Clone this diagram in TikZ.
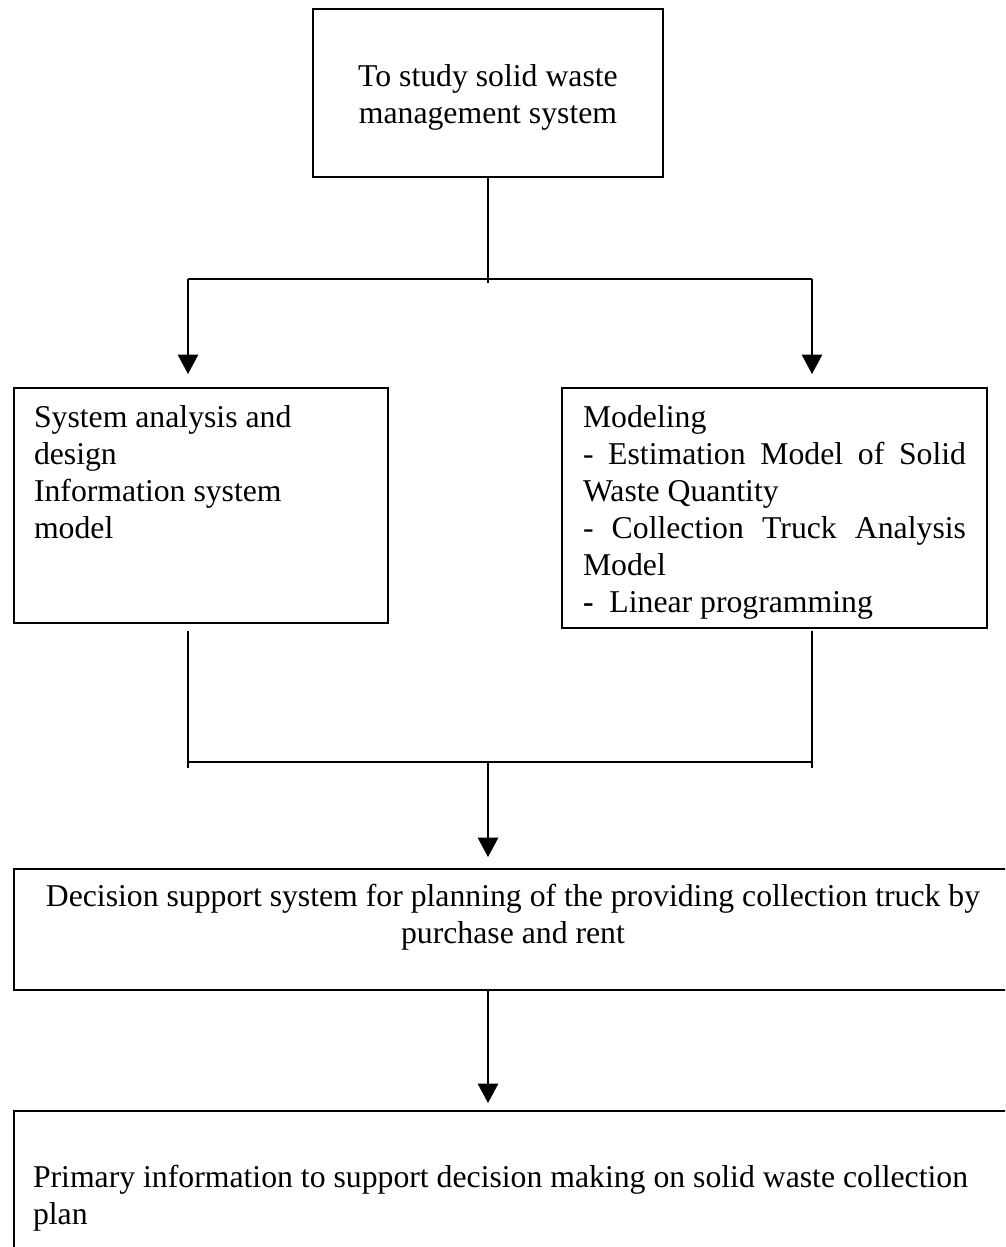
\documentclass[tikz,border=0pt]{standalone}
\usepackage{fontspec}
\setmainfont{Liberation Serif}
\usetikzlibrary{arrows.meta}
\newlength\pxu
\setlength\pxu{0.375pt}
\begin{document}
\begin{tikzpicture}[x=0.375pt, y=-0.375pt,
  box/.style={draw, line width=0.75pt, inner sep=0pt, outer sep=0pt},
  txt/.style={inner sep=0pt, outer sep=0pt, font=\fontsize{11.9pt}{13.9pt}\selectfont},
  conn/.style={line width=0.5pt},
  arrow/.style={conn, -{Triangle[width=7.7pt, length=7.3pt]}}]
\useasboundingbox (0,0) rectangle (1005,1247);
\clip (0,0) rectangle (1005,1247);

% boxes
\node[box, minimum width=350\pxu, minimum height=168\pxu] (topbox) at (488,93) {};
\node[box, minimum width=374\pxu, minimum height=235\pxu] (leftbox) at (201,505.5) {};
\node[box, minimum width=425\pxu, minimum height=240\pxu] (rightbox) at (774.5,508) {};
\node[box, minimum width=998\pxu, minimum height=121\pxu] (dssbox) at (513,929.5) {};
\node[box, minimum width=1010\pxu, minimum height=160\pxu] (infobox) at (519,1191) {};

% texts
\node[txt, anchor=base] (toptext) at (488,86)
  {\parbox[t]{340\pxu}{\centering To study solid waste\\management system}};
\node[txt, anchor=base west] (lefttext) at (34,427)
  {\parbox[t]{350\pxu}{\raggedright System analysis and\\design\\Information system\\model}};
\node[txt, anchor=base west] (righttext) at (583,427)
  {\parbox[t]{383\pxu}{\raggedright Modeling\\
   \makebox[\linewidth][s]{- Estimation Model of Solid}\\
   Waste Quantity\\
   \makebox[\linewidth][s]{- Collection Truck Analysis}\\
   Model\\
   \textbf{-}\ \ Linear programming}};
\node[txt, anchor=base] (dsstext) at (513,906)
  {\parbox[t]{990\pxu}{\centering Decision support system for planning of the providing collection truck by\\purchase and rent}};
\node[txt, anchor=base west] (infotext) at (33,1187)
  {\parbox[t]{1000\pxu}{\raggedright Primary information to support decision making on solid waste collection\\plan}};

% split from the study box
\coordinate (splitM) at (488,279);
\coordinate (splitL) at (188,279);
\coordinate (splitR) at (812,279);
\draw[conn] (topbox.south -| splitM) -- ++(0,106);
\draw[conn] (splitL) -- (splitR);
\draw[arrow, shorten >=5.25pt] (splitL) -- (splitL |- leftbox.north);
\draw[arrow, shorten >=5.25pt] (splitR) -- (splitR |- rightbox.north);

% merge into the decision support box
\coordinate (legL) at (188,631);
\coordinate (legR) at (812,631);
\coordinate (mergeL) at (188,762);
\coordinate (mergeR) at (812,762);
\coordinate (mergeM) at (488,762);
\draw[conn] (legL) -- (mergeL) -- ++(0,6);
\draw[conn] (legR) -- (mergeR) -- ++(0,6);
\draw[conn] (mergeL) -- (mergeR);
\draw[arrow, shorten >=4.5pt] (mergeM) -- (mergeM |- dssbox.north);
\draw[arrow, shorten >=3pt] (dssbox.south -| mergeM) -- (mergeM |- infobox.north);
\end{tikzpicture}
\end{document}
